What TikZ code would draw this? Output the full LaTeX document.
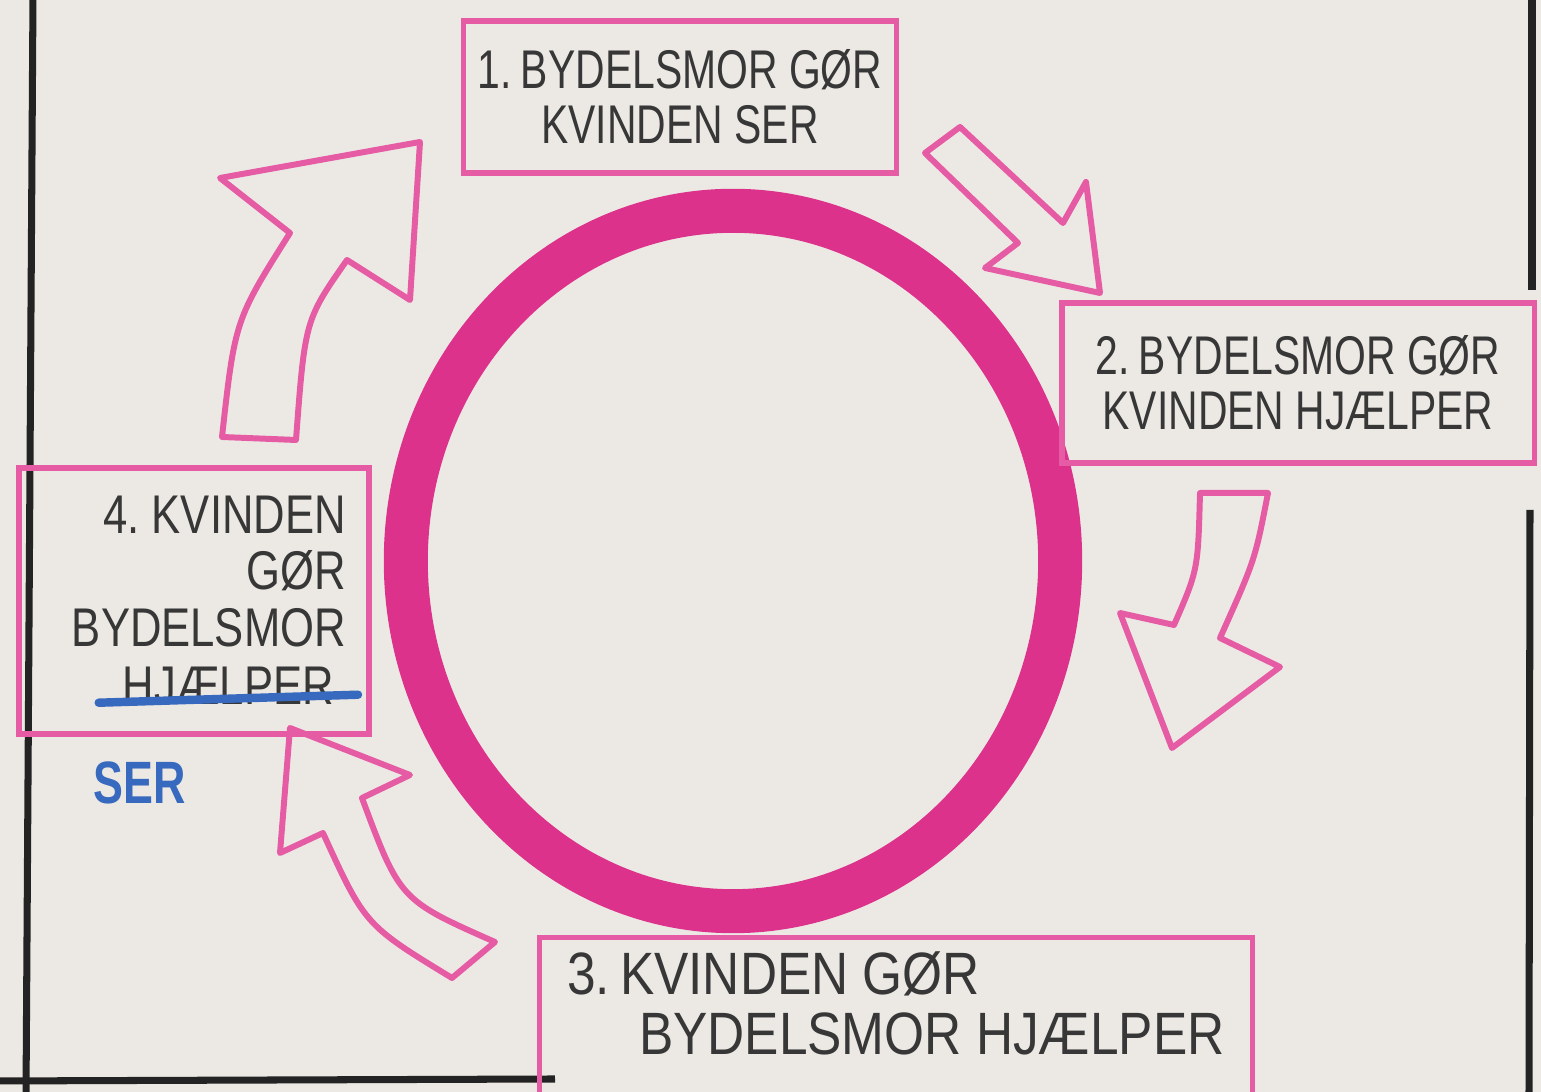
\documentclass[tikz,border=0pt]{standalone}
\usepackage{fontspec}
\setmainfont{Liberation Sans}[FakeStretch=0.75]
\newfontfamily\widehand{Liberation Sans}[FakeStretch=0.86]
\newfontfamily\midhand{Liberation Sans}[FakeStretch=0.8]
\usetikzlibrary{positioning}
\definecolor{paper}{RGB}{236,233,228}
\definecolor{boxpink}{RGB}{229,92,165}
\definecolor{ringpink}{RGB}{220,50,140}
\definecolor{ink}{RGB}{55,55,55}
\definecolor{markerblue}{RGB}{55,105,190}
\definecolor{frameblack}{RGB}{35,35,35}

\begin{document}
\begin{tikzpicture}[x=0.01cm, y=-0.01cm,
  stepbox/.style={draw=boxpink, line width=1.5pt, rectangle, align=center, text=ink,
    font=\fontsize{15.5}{15.5}\selectfont},
  steptext/.style={text=ink, inner sep=1pt, font=\midhand\fontsize{15.5}{16}\selectfont},
  handarrow/.style={draw=boxpink, line width=1.7pt, line join=round},
  ring/.style={draw=ringpink, line width=0.44cm},
  frame/.style={draw=frameblack, line width=2pt},
  strike/.style={draw=markerblue, line width=2.4pt, line cap=round},
  seer/.style={text=markerblue, font=\fontsize{17}{17}\selectfont\bfseries}]
  \useasboundingbox (0,0) rectangle (1541,1092);
  \clip (0,0) rectangle (1541,1092);
  \fill[paper] (0,0) rectangle (1541,1092);
  % paper edges
  \draw[frame] (33,-5) -- (26,1097);
  \draw[frame] (1532,-5) -- (1532,290);
  \draw[frame] (1530,510) -- (1529,1097);
  \draw[frame] (-5,1081) -- (555,1079);

  \draw[ring] (733,561) ellipse [x radius=3.27cm, y radius=3.5cm];

  % the four steps
  \node[stepbox, minimum width=4.33cm, minimum height=1.52cm] (step1) at (680,97)
    {1.\,BYDELSMOR GØR\\KVINDEN SER};
  \node[stepbox, minimum width=4.72cm, minimum height=1.6cm] (step2) at (1298,383)
    {2.\,BYDELSMOR GØR\\KVINDEN HJÆLPER};
  \node[stepbox, anchor=north, minimum width=7.12cm, align=left, inner ysep=4pt,
    text depth=1.6cm, font=\widehand\fontsize{17}{17}\selectfont] (step3) at (896,935)
    {3.\,KVINDEN GØR\\\hspace*{1.2em}BYDELSMOR HJÆLPER};
  \node[stepbox, minimum width=3.5cm, minimum height=2.66cm] (step4) at (194,601) {};
  \node[steptext, align=right, anchor=north east] (kvinden) at (350,492)
    {4.~KVINDEN\\GØR\\BYDELSMOR};
  \node[steptext, anchor=north east] (hjaelper) at ([xshift=-0.12cm, yshift=-0.12cm]kvinden.south east) {HJÆLPER};
  \draw[strike] ([xshift=-0.2cm, yshift=0.02cm]hjaelper.base west)
    .. controls ([yshift=0.06cm]hjaelper.base) .. ([xshift=0.2cm, yshift=0.1cm]hjaelper.base east);
  \node[seer] (ser) at (140,783) {SER};

  % hollow arrows
  \draw[handarrow] (925,153) -- (960,127) -- (1063,223) -- (1086,182) -- (1100,293)
    -- (985,268) -- (1018,243) -- cycle;
  \draw[handarrow] (1200,493) -- (1268,493) .. controls (1255,560) .. (1220,638)
    -- (1280,667) -- (1172,748) -- (1120,613) -- (1174,625)
    .. controls (1198,570) .. (1200,493) -- cycle;
  \draw[handarrow] (290,728) -- (410,775) -- (362,798) .. controls (400,900) .. (495,942)
    -- (452,978) .. controls (365,925) .. (323,833) -- (280,853) -- cycle;
  \draw[handarrow] (220,178) -- (420,142) -- (410,300) -- (347,260)
    .. controls (305,320) .. (296,440) -- (222,437) .. controls (235,320) .. (290,233) -- cycle;
\end{tikzpicture}
\end{document}
